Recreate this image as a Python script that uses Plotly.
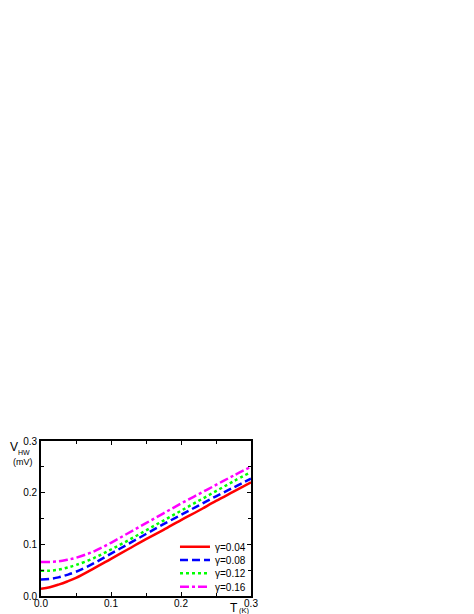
import plotly.graph_objects as go

# temperature grid (K)
T = [0.0, 0.0125, 0.025, 0.0375, 0.05, 0.075, 0.1, 0.125, 0.15, 0.175, 0.2, 0.225, 0.25, 0.275, 0.3]

# half-width voltage (mV) for each gamma
V_004 = [0.014, 0.017, 0.022, 0.028, 0.035, 0.053, 0.072, 0.091, 0.110, 0.128, 0.147, 0.165, 0.184, 0.202, 0.220]
V_008 = [0.032, 0.033, 0.036, 0.041, 0.047, 0.063, 0.082, 0.101, 0.120, 0.139, 0.157, 0.175, 0.193, 0.210, 0.227]
V_012 = [0.049, 0.049, 0.051, 0.055, 0.060, 0.073, 0.090, 0.108, 0.127, 0.146, 0.165, 0.184, 0.203, 0.222, 0.240]
V_016 = [0.066, 0.066, 0.067, 0.070, 0.074, 0.086, 0.103, 0.122, 0.141, 0.160, 0.179, 0.197, 0.215, 0.233, 0.250]

NAMES = ["γ=0.04", "γ=0.08", "γ=0.12", "γ=0.16"]
SERIES = [V_004, V_008, V_012, V_016]
COLORS = ["#ff0000", "#0000ff", "#00ff00", "#ff00ff"]
DASHES = ["solid", "8px,4px", "dot", "9px,3px,3px,3px"]

# one legend per curve so the rows can sit closer than plotly's minimum row height
LEGENDS = ["legend", "legend2", "legend3", "legend4"]
LEGEND_Y = [0.318, 0.232, 0.146, 0.060]

FONT = "Liberation Sans, Arial, sans-serif"

fig = go.Figure()
for name, vals, color, dash, lg in zip(NAMES, SERIES, COLORS, DASHES, LEGENDS):
    fig.add_trace(go.Scatter(
        x=T, y=vals, name=name, mode="lines", legend=lg, showlegend=True,
        line=dict(color=color, width=2.5, dash=dash, shape="spline", smoothing=1.0),
    ))

axis_style = dict(
    range=[0, 0.3],
    dtick=0.1,
    tickformat=".1f",
    ticks="inside",
    ticklen=4,
    tickwidth=1,
    tickcolor="black",
    minor=dict(dtick=0.05, ticks="inside", ticklen=3, tickcolor="black"),
    showline=True,
    linecolor="black",
    linewidth=1.8,
    mirror="allticks",
    showgrid=False,
    zeroline=False,
    tickfont=dict(size=10, color="black", family=FONT),
)

fig.update_xaxes(**axis_style, ticklabelstandoff=-3)
fig.update_yaxes(**axis_style)

legend_style = dict(
    x=0.638, xanchor="left", yanchor="middle",
    bgcolor="rgba(0,0,0,0)",
    font=dict(size=10, color="black", family=FONT),
)


def label(text, x, y, size, xanchor="left", yanchor="middle"):
    return dict(text=text, xref="paper", yref="paper", x=x, y=y,
                xanchor=xanchor, yanchor=yanchor, showarrow=False,
                borderpad=0, font=dict(size=size))


fig.update_layout(
    width=474,
    height=614,
    margin=dict(l=33, r=231, t=433, b=26),
    paper_bgcolor="white",
    plot_bgcolor="white",
    showlegend=True,
    font=dict(family=FONT, color="black"),
    annotations=[
        label("V", -0.152, 1.015, 12, yanchor="top"),
        label("HW", -0.112, 0.927, 7),
        label("(mV)", -0.086, 0.865, 9, xanchor="center"),
        label("T", 0.943, -0.128, 12, xanchor="right", yanchor="bottom"),
        label("(K)", 1.0, -0.132, 7.5, xanchor="right", yanchor="bottom"),
    ],
)
for lg, ly in zip(LEGENDS, LEGEND_Y):
    fig.update_layout({lg: dict(legend_style, y=ly)})

fig.write_html("out.html")
